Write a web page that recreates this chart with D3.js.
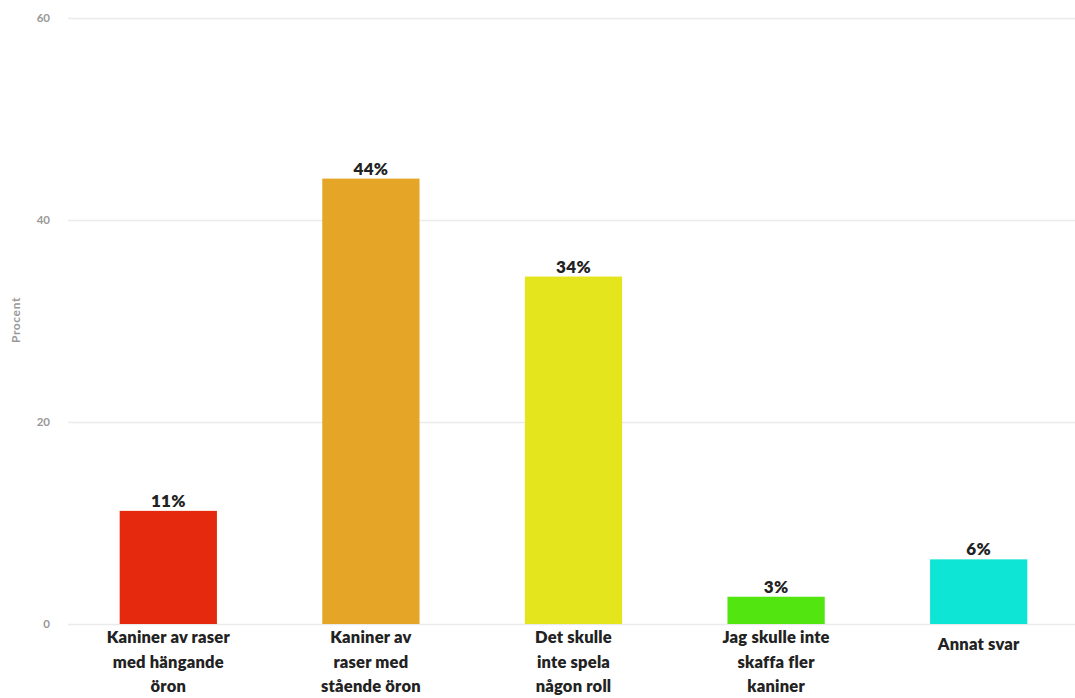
<!DOCTYPE html>
<html>
<head>
<meta charset="utf-8">
<script src="https://cdn.jsdelivr.net/npm/d3@7"></script>
<style>
  html, body { margin: 0; padding: 0; background: #fff; }
  svg { display: block; }
</style>
</head>
<body>
<svg id="chart" width="1075" height="698"></svg>
<script>
// Survey answers: share of respondents per option (percent)
const categories = [
  ["Kaniner av raser", "med hängande", "öron"],
  ["Kaniner av", "raser med", "stående öron"],
  ["Det skulle", "inte spela", "någon roll"],
  ["Jag skulle inte", "skaffa fler", "kaniner"],
  ["Annat svar"]
];
const values = [11.2, 44.1, 34.4, 2.7, 6.4];
const colors = ["#e5290f", "#e5a526", "#e5e51e", "#52e50f", "#0fe5d4"];
const yTicks = [0, 20, 40, 60];
const yTitle = "Procent";

const svg = d3.select("#chart");
const font = "Lato, 'Open Sans', sans-serif";

const x = d3.scaleBand()
  .domain(d3.range(values.length))
  .range([67, 1080])
  .paddingInner(0.52)
  .paddingOuter(0.26);

const y = d3.scaleLinear().domain([0, 60]).range([624, 18]);

// Horizontal grid lines with tick labels
const yAxis = d3.axisLeft(y)
  .tickValues(yTicks)
  .tickSize(-(1075 - 68))
  .tickPadding(18)
  .tickFormat(d3.format("d"));

const gy = svg.append("g")
  .attr("transform", "translate(68,0)")
  .call(yAxis);
gy.select(".domain").remove();
gy.selectAll(".tick line").attr("stroke", "#ebebeb").attr("stroke-width", 1.5);
gy.selectAll(".tick text")
  .attr("fill", "#999")
  .style("font-family", font)
  .style("font-size", "11.5px")
  .style("font-weight", "700");

// Axis title
svg.append("text")
  .attr("transform", "translate(20,320) rotate(-90)")
  .attr("text-anchor", "middle")
  .attr("fill", "#999")
  .style("font-family", font)
  .style("font-size", "12px")
  .style("font-weight", "700")
  .style("letter-spacing", "0.6px")
  .text(yTitle);

// Bars
svg.append("g").selectAll("rect")
  .data(values)
  .join("rect")
  .attr("x", (d, i) => x(i))
  .attr("y", d => y(d))
  .attr("width", x.bandwidth())
  .attr("height", d => y(0) - y(d))
  .attr("fill", (d, i) => colors[i]);

// Value labels above bars
const fmt = d => d3.format(".0f")(d) + "%";
svg.append("g").selectAll("text")
  .data(values)
  .join("text")
  .attr("x", (d, i) => x(i) + x.bandwidth() / 2)
  .attr("y", d => y(d) - 4)
  .attr("text-anchor", "middle")
  .attr("fill", "#222")
  .style("font-family", font)
  .style("font-size", "17px")
  .style("font-weight", "800")
  .style("letter-spacing", "0.3px")
  .text(fmt);

// Category labels under the bars
const lineH = 24.5;
const catG = svg.append("g");
categories.forEach((lines, i) => {
  const t = catG.append("text")
    .attr("x", x(i) + x.bandwidth() / 2)
    .attr("y", lines.length === 1 ? 650 : 643)
    .attr("text-anchor", "middle")
    .attr("fill", "#222")
    .style("font-family", font)
    .style("font-size", "16.5px")
    .style("font-weight", "800")
    .style("letter-spacing", "0.2px");
  lines.forEach((ln, k) => {
    t.append("tspan")
      .attr("x", x(i) + x.bandwidth() / 2)
      .attr("dy", k === 0 ? 0 : lineH)
      .text(ln);
  });
});
</script>
</body>
</html>
